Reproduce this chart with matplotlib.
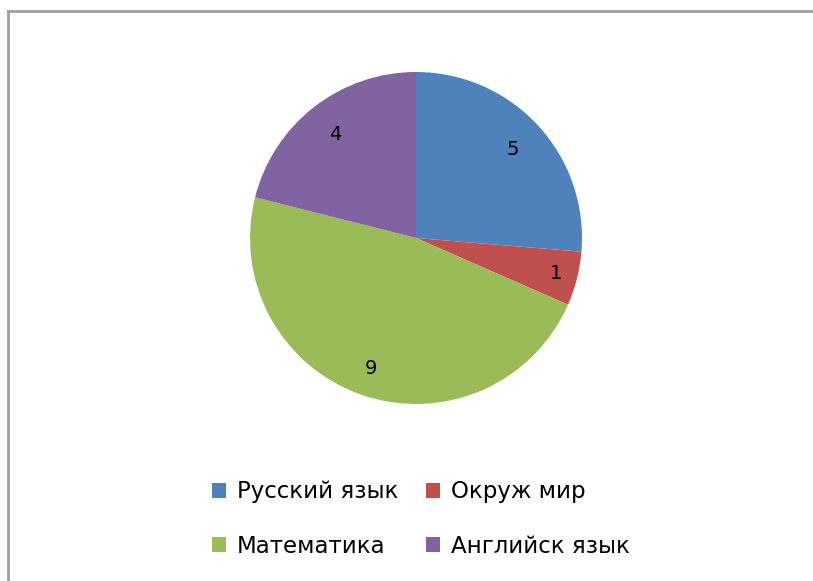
import numpy as np
import matplotlib.pyplot as plt
from matplotlib.patches import Patch
from matplotlib.lines import Line2D

# Data
subjects = ['Русский язык', 'Окруж мир', 'Математика', 'Английск язык']
values = [5, 1, 9, 4]
colors = ['#4F81BD', '#C0504D', '#9BBB59', '#8064A2']

W, H = 813, 581
fig = plt.figure(figsize=(W / 100, H / 100), dpi=100)

# chart frame (top and left edges visible, rest runs off the picture)
fig.add_artist(Line2D([8 / W, 8 / W], [0, 1 - 11 / H], transform=fig.transFigure,
                      color='#a0a0a0', lw=2))
fig.add_artist(Line2D([8 / W, 1], [1 - 11 / H, 1 - 11 / H], transform=fig.transFigure,
                      color='#a0a0a0', lw=2))

cx, cy, r = 416, 238, 166
ax = fig.add_axes([(cx - r) / W, 1 - (cy + r) / H, 2 * r / W, 2 * r / H])

wedges, texts = ax.pie(values, colors=colors, startangle=90, counterclock=False,
                       wedgeprops=dict(linewidth=0), radius=1)

# value labels inside slices
label_dist = [0.79, 0.87, 0.83, 0.79]
total = sum(values)
start = 90
for v, d in zip(values, label_dist):
    mid = start - 360 * v / total / 2
    ax.text(d * np.cos(np.radians(mid)), d * np.sin(np.radians(mid)), str(v),
            ha='center', va='center', fontsize=14, color='black')
    start -= 360 * v / total

ax.set_xlim(-1, 1)
ax.set_ylim(-1, 1)
ax.set_aspect('equal')
ax.axis('off')

# legend: column-major order so rows read Русский/Окруж, Математика/Английск
order = [0, 2, 1, 3]
handles = [Patch(facecolor=colors[i], edgecolor='none') for i in order]
labels = [subjects[i] for i in order]
fig.legend(handles, labels, ncol=2, frameon=False, loc='center',
           bbox_to_anchor=(421 / W, 1 - 519 / H), fontsize=16.5,
           handlelength=0.61, handleheight=0.61, handletextpad=0.5,
           labelspacing=1.37, columnspacing=1.2)

fig.savefig('out.png', dpi=100, facecolor='white')
